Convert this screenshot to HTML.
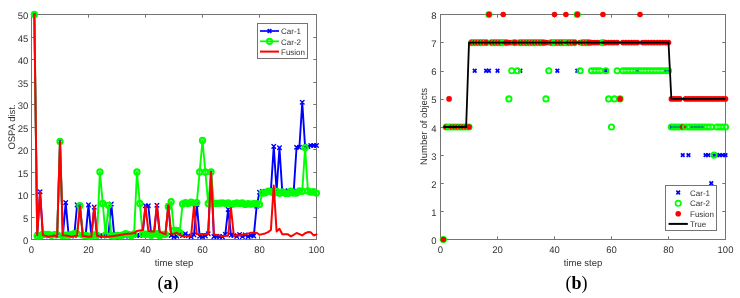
<!DOCTYPE html>
<html><head><meta charset="utf-8"><style>
html,body{margin:0;padding:0;background:#fff;}
svg{display:block;will-change:transform;}
</style></head><body>
<svg width="740" height="298" viewBox="0 0 740 298">
<rect width="740" height="298" fill="#fff"/>
<g font-family='"Liberation Sans", sans-serif' font-size="9.5" fill="#333333" text-rendering="geometricPrecision">
<text x="31.5" y="253.4" text-anchor="middle">0</text>
<text x="88.5" y="253.4" text-anchor="middle">20</text>
<text x="145.5" y="253.4" text-anchor="middle">40</text>
<text x="202.5" y="253.4" text-anchor="middle">60</text>
<text x="259.5" y="253.4" text-anchor="middle">80</text>
<text x="316.5" y="253.4" text-anchor="middle">100</text>
<text x="28.3" y="244.1" text-anchor="end">0</text>
<text x="28.3" y="221.6" text-anchor="end">5</text>
<text x="28.3" y="199.1" text-anchor="end">10</text>
<text x="28.3" y="176.6" text-anchor="end">15</text>
<text x="28.3" y="154.1" text-anchor="end">20</text>
<text x="28.3" y="131.6" text-anchor="end">25</text>
<text x="28.3" y="109.1" text-anchor="end">30</text>
<text x="28.3" y="86.6" text-anchor="end">35</text>
<text x="28.3" y="64.1" text-anchor="end">40</text>
<text x="28.3" y="41.6" text-anchor="end">45</text>
<text x="28.3" y="19.1" text-anchor="end">50</text>
<text x="174" y="265.9" text-anchor="middle">time step</text>
<text transform="translate(14.7,127) rotate(-90)" text-anchor="middle">OSPA dist.</text>
<text x="440.5" y="253.4" text-anchor="middle">0</text>
<text x="497.5" y="253.4" text-anchor="middle">20</text>
<text x="554.5" y="253.4" text-anchor="middle">40</text>
<text x="611.5" y="253.4" text-anchor="middle">60</text>
<text x="668.5" y="253.4" text-anchor="middle">80</text>
<text x="725.5" y="253.4" text-anchor="middle">100</text>
<text x="436.5" y="244.1" text-anchor="end">0</text>
<text x="436.5" y="215.97" text-anchor="end">1</text>
<text x="436.5" y="187.85" text-anchor="end">2</text>
<text x="436.5" y="159.72" text-anchor="end">3</text>
<text x="436.5" y="131.6" text-anchor="end">4</text>
<text x="436.5" y="103.47" text-anchor="end">5</text>
<text x="436.5" y="75.35" text-anchor="end">6</text>
<text x="436.5" y="47.23" text-anchor="end">7</text>
<text x="436.5" y="19.1" text-anchor="end">8</text>
<text x="583" y="265.9" text-anchor="middle">time step</text>
<text transform="translate(426.7,126.5) rotate(-90)" text-anchor="middle">Number of objects</text>
</g>
<rect x="31.5" y="14.5" width="285" height="225" fill="none" stroke="#747474" stroke-width="1"/>
<line x1="31.5" y1="239.5" x2="31.5" y2="236.3" stroke="#747474"/>
<line x1="31.5" y1="14.5" x2="31.5" y2="17.7" stroke="#747474"/>
<line x1="88.5" y1="239.5" x2="88.5" y2="236.3" stroke="#747474"/>
<line x1="88.5" y1="14.5" x2="88.5" y2="17.7" stroke="#747474"/>
<line x1="145.5" y1="239.5" x2="145.5" y2="236.3" stroke="#747474"/>
<line x1="145.5" y1="14.5" x2="145.5" y2="17.7" stroke="#747474"/>
<line x1="202.5" y1="239.5" x2="202.5" y2="236.3" stroke="#747474"/>
<line x1="202.5" y1="14.5" x2="202.5" y2="17.7" stroke="#747474"/>
<line x1="259.5" y1="239.5" x2="259.5" y2="236.3" stroke="#747474"/>
<line x1="259.5" y1="14.5" x2="259.5" y2="17.7" stroke="#747474"/>
<line x1="316.5" y1="239.5" x2="316.5" y2="236.3" stroke="#747474"/>
<line x1="316.5" y1="14.5" x2="316.5" y2="17.7" stroke="#747474"/>
<line x1="31.5" y1="239.5" x2="34.7" y2="239.5" stroke="#747474"/>
<line x1="316.5" y1="239.5" x2="313.3" y2="239.5" stroke="#747474"/>
<line x1="31.5" y1="217.5" x2="34.7" y2="217.5" stroke="#747474"/>
<line x1="316.5" y1="217.5" x2="313.3" y2="217.5" stroke="#747474"/>
<line x1="31.5" y1="194.5" x2="34.7" y2="194.5" stroke="#747474"/>
<line x1="316.5" y1="194.5" x2="313.3" y2="194.5" stroke="#747474"/>
<line x1="31.5" y1="172.5" x2="34.7" y2="172.5" stroke="#747474"/>
<line x1="316.5" y1="172.5" x2="313.3" y2="172.5" stroke="#747474"/>
<line x1="31.5" y1="149.5" x2="34.7" y2="149.5" stroke="#747474"/>
<line x1="316.5" y1="149.5" x2="313.3" y2="149.5" stroke="#747474"/>
<line x1="31.5" y1="127.5" x2="34.7" y2="127.5" stroke="#747474"/>
<line x1="316.5" y1="127.5" x2="313.3" y2="127.5" stroke="#747474"/>
<line x1="31.5" y1="104.5" x2="34.7" y2="104.5" stroke="#747474"/>
<line x1="316.5" y1="104.5" x2="313.3" y2="104.5" stroke="#747474"/>
<line x1="31.5" y1="82.5" x2="34.7" y2="82.5" stroke="#747474"/>
<line x1="316.5" y1="82.5" x2="313.3" y2="82.5" stroke="#747474"/>
<line x1="31.5" y1="59.5" x2="34.7" y2="59.5" stroke="#747474"/>
<line x1="316.5" y1="59.5" x2="313.3" y2="59.5" stroke="#747474"/>
<line x1="31.5" y1="37.5" x2="34.7" y2="37.5" stroke="#747474"/>
<line x1="316.5" y1="37.5" x2="313.3" y2="37.5" stroke="#747474"/>
<line x1="31.5" y1="14.5" x2="34.7" y2="14.5" stroke="#747474"/>
<line x1="316.5" y1="14.5" x2="313.3" y2="14.5" stroke="#747474"/>
<clipPath id="cl"><rect x="20" y="0" width="310" height="250"/></clipPath>
<g clip-path="url(#cl)" stroke-linejoin="round" stroke-linecap="round">
<polyline points="34.35,14.5 37.2,234.82 40.05,191.8 42.9,235.04 45.75,235.41 48.6,235.99 51.45,235.09 54.3,236.03 57.15,235.22 60,141.4 62.85,235.94 65.7,202.6 68.55,234.46 71.4,235.85 74.25,235.68 77.1,204.85 79.95,205.75 82.8,234.96 85.65,235.31 88.5,204.85 91.35,236.03 94.2,207.1 97.05,235.54 99.9,235.85 102.75,235.9 105.6,235.5 108.45,234.46 111.3,203.95 114.15,234.96 117,234.82 119.85,235.36 122.7,235 125.55,235.99 128.4,235.99 131.25,235.72 134.1,234.73 136.95,235.27 139.8,235.5 142.65,234.96 145.5,205.75 148.35,205.75 151.2,234.5 154.05,234.73 156.9,205.3 159.75,234.96 162.6,235.04 165.45,234.37 168.3,205.75 171.15,235.54 174,237.03 176.85,236.31 179.7,233.97 182.55,235.45 185.4,233.69 188.25,235.68 191.1,236.8 193.95,234.91 196.8,204.4 199.65,236.12 202.5,236.71 205.35,235.9 208.2,233.78 211.05,172 213.9,236.62 216.75,236.22 219.6,236.66 222.45,236.84 225.3,234.32 228.15,209.35 231,235.13 233.85,235.5 236.7,236.4 239.55,234.55 242.4,236.57 245.25,234.87 248.1,236.62 250.95,235.59 253.8,235.9 256.65,206.2 259.5,192.25 262.35,191.22 265.2,191.4 268.05,191.94 270.9,190.31 273.75,146.35 276.6,191.12 279.45,147.7 282.3,192.07 285.15,190.99 288,190.85 290.85,192.16 293.7,191.4 296.55,147.25 299.4,147.25 302.25,102.25 305.1,147.25 307.95,146.35 310.8,145.45 313.65,145.45 316.5,145.45" fill="none" stroke="#0000ff" stroke-width="1.9"/>
<path d="M32.55,12.7L36.15,16.3M32.55,16.3L36.15,12.7" stroke="#0000ff" stroke-width="1.4" fill="none"/>
<path d="M35.4,233.02L39,236.62M35.4,236.62L39,233.02" stroke="#0000ff" stroke-width="1.4" fill="none"/>
<path d="M38.25,190L41.85,193.6M38.25,193.6L41.85,190" stroke="#0000ff" stroke-width="1.4" fill="none"/>
<path d="M41.1,233.24L44.7,236.84M41.1,236.84L44.7,233.24" stroke="#0000ff" stroke-width="1.4" fill="none"/>
<path d="M43.95,233.6L47.55,237.21M43.95,237.21L47.55,233.6" stroke="#0000ff" stroke-width="1.4" fill="none"/>
<path d="M46.8,234.19L50.4,237.79M46.8,237.79L50.4,234.19" stroke="#0000ff" stroke-width="1.4" fill="none"/>
<path d="M49.65,233.29L53.25,236.89M49.65,236.89L53.25,233.29" stroke="#0000ff" stroke-width="1.4" fill="none"/>
<path d="M52.5,234.23L56.1,237.84M52.5,237.84L56.1,234.23" stroke="#0000ff" stroke-width="1.4" fill="none"/>
<path d="M55.35,233.42L58.95,237.03M55.35,237.03L58.95,233.42" stroke="#0000ff" stroke-width="1.4" fill="none"/>
<path d="M58.2,139.6L61.8,143.2M58.2,143.2L61.8,139.6" stroke="#0000ff" stroke-width="1.4" fill="none"/>
<path d="M61.05,234.14L64.65,237.75M61.05,237.75L64.65,234.14" stroke="#0000ff" stroke-width="1.4" fill="none"/>
<path d="M63.9,200.8L67.5,204.4M63.9,204.4L67.5,200.8" stroke="#0000ff" stroke-width="1.4" fill="none"/>
<path d="M66.75,232.66L70.35,236.26M66.75,236.26L70.35,232.66" stroke="#0000ff" stroke-width="1.4" fill="none"/>
<path d="M69.6,234.05L73.2,237.66M69.6,237.66L73.2,234.05" stroke="#0000ff" stroke-width="1.4" fill="none"/>
<path d="M72.45,233.88L76.05,237.48M72.45,237.48L76.05,233.88" stroke="#0000ff" stroke-width="1.4" fill="none"/>
<path d="M75.3,203.05L78.9,206.65M75.3,206.65L78.9,203.05" stroke="#0000ff" stroke-width="1.4" fill="none"/>
<path d="M78.15,203.95L81.75,207.55M78.15,207.55L81.75,203.95" stroke="#0000ff" stroke-width="1.4" fill="none"/>
<path d="M81,233.16L84.6,236.76M81,236.76L84.6,233.16" stroke="#0000ff" stroke-width="1.4" fill="none"/>
<path d="M83.85,233.51L87.45,237.12M83.85,237.12L87.45,233.51" stroke="#0000ff" stroke-width="1.4" fill="none"/>
<path d="M86.7,203.05L90.3,206.65M86.7,206.65L90.3,203.05" stroke="#0000ff" stroke-width="1.4" fill="none"/>
<path d="M89.55,234.23L93.15,237.84M89.55,237.84L93.15,234.23" stroke="#0000ff" stroke-width="1.4" fill="none"/>
<path d="M92.4,205.3L96,208.9M92.4,208.9L96,205.3" stroke="#0000ff" stroke-width="1.4" fill="none"/>
<path d="M95.25,233.74L98.85,237.34M95.25,237.34L98.85,233.74" stroke="#0000ff" stroke-width="1.4" fill="none"/>
<path d="M98.1,234.05L101.7,237.66M98.1,237.66L101.7,234.05" stroke="#0000ff" stroke-width="1.4" fill="none"/>
<path d="M100.95,234.1L104.55,237.7M100.95,237.7L104.55,234.1" stroke="#0000ff" stroke-width="1.4" fill="none"/>
<path d="M103.8,233.69L107.4,237.3M103.8,237.3L107.4,233.69" stroke="#0000ff" stroke-width="1.4" fill="none"/>
<path d="M106.65,232.66L110.25,236.26M106.65,236.26L110.25,232.66" stroke="#0000ff" stroke-width="1.4" fill="none"/>
<path d="M109.5,202.15L113.1,205.75M109.5,205.75L113.1,202.15" stroke="#0000ff" stroke-width="1.4" fill="none"/>
<path d="M112.35,233.16L115.95,236.76M112.35,236.76L115.95,233.16" stroke="#0000ff" stroke-width="1.4" fill="none"/>
<path d="M115.2,233.02L118.8,236.62M115.2,236.62L118.8,233.02" stroke="#0000ff" stroke-width="1.4" fill="none"/>
<path d="M118.05,233.56L121.65,237.16M118.05,237.16L121.65,233.56" stroke="#0000ff" stroke-width="1.4" fill="none"/>
<path d="M120.9,233.2L124.5,236.8M120.9,236.8L124.5,233.2" stroke="#0000ff" stroke-width="1.4" fill="none"/>
<path d="M123.75,234.19L127.35,237.79M123.75,237.79L127.35,234.19" stroke="#0000ff" stroke-width="1.4" fill="none"/>
<path d="M126.6,234.19L130.2,237.79M126.6,237.79L130.2,234.19" stroke="#0000ff" stroke-width="1.4" fill="none"/>
<path d="M129.45,233.92L133.05,237.52M129.45,237.52L133.05,233.92" stroke="#0000ff" stroke-width="1.4" fill="none"/>
<path d="M132.3,232.93L135.9,236.53M132.3,236.53L135.9,232.93" stroke="#0000ff" stroke-width="1.4" fill="none"/>
<path d="M135.15,233.47L138.75,237.07M135.15,237.07L138.75,233.47" stroke="#0000ff" stroke-width="1.4" fill="none"/>
<path d="M138,233.69L141.6,237.3M138,237.3L141.6,233.69" stroke="#0000ff" stroke-width="1.4" fill="none"/>
<path d="M140.85,233.16L144.45,236.76M140.85,236.76L144.45,233.16" stroke="#0000ff" stroke-width="1.4" fill="none"/>
<path d="M143.7,203.95L147.3,207.55M143.7,207.55L147.3,203.95" stroke="#0000ff" stroke-width="1.4" fill="none"/>
<path d="M146.55,203.95L150.15,207.55M146.55,207.55L150.15,203.95" stroke="#0000ff" stroke-width="1.4" fill="none"/>
<path d="M149.4,232.7L153,236.31M149.4,236.31L153,232.7" stroke="#0000ff" stroke-width="1.4" fill="none"/>
<path d="M152.25,232.93L155.85,236.53M152.25,236.53L155.85,232.93" stroke="#0000ff" stroke-width="1.4" fill="none"/>
<path d="M155.1,203.5L158.7,207.1M155.1,207.1L158.7,203.5" stroke="#0000ff" stroke-width="1.4" fill="none"/>
<path d="M157.95,233.16L161.55,236.76M157.95,236.76L161.55,233.16" stroke="#0000ff" stroke-width="1.4" fill="none"/>
<path d="M160.8,233.24L164.4,236.84M160.8,236.84L164.4,233.24" stroke="#0000ff" stroke-width="1.4" fill="none"/>
<path d="M163.65,232.57L167.25,236.17M163.65,236.17L167.25,232.57" stroke="#0000ff" stroke-width="1.4" fill="none"/>
<path d="M166.5,203.95L170.1,207.55M166.5,207.55L170.1,203.95" stroke="#0000ff" stroke-width="1.4" fill="none"/>
<path d="M169.35,233.74L172.95,237.34M169.35,237.34L172.95,233.74" stroke="#0000ff" stroke-width="1.4" fill="none"/>
<path d="M172.2,235.22L175.8,238.83M172.2,238.83L175.8,235.22" stroke="#0000ff" stroke-width="1.4" fill="none"/>
<path d="M175.05,234.5L178.65,238.11M175.05,238.11L178.65,234.5" stroke="#0000ff" stroke-width="1.4" fill="none"/>
<path d="M177.9,232.16L181.5,235.77M177.9,235.77L181.5,232.16" stroke="#0000ff" stroke-width="1.4" fill="none"/>
<path d="M180.75,233.65L184.35,237.25M180.75,237.25L184.35,233.65" stroke="#0000ff" stroke-width="1.4" fill="none"/>
<path d="M183.6,231.89L187.2,235.5M183.6,235.5L187.2,231.89" stroke="#0000ff" stroke-width="1.4" fill="none"/>
<path d="M186.45,233.88L190.05,237.48M186.45,237.48L190.05,233.88" stroke="#0000ff" stroke-width="1.4" fill="none"/>
<path d="M189.3,235L192.9,238.6M189.3,238.6L192.9,235" stroke="#0000ff" stroke-width="1.4" fill="none"/>
<path d="M192.15,233.11L195.75,236.71M192.15,236.71L195.75,233.11" stroke="#0000ff" stroke-width="1.4" fill="none"/>
<path d="M195,202.6L198.6,206.2M195,206.2L198.6,202.6" stroke="#0000ff" stroke-width="1.4" fill="none"/>
<path d="M197.85,234.32L201.45,237.93M197.85,237.93L201.45,234.32" stroke="#0000ff" stroke-width="1.4" fill="none"/>
<path d="M200.7,234.91L204.3,238.51M200.7,238.51L204.3,234.91" stroke="#0000ff" stroke-width="1.4" fill="none"/>
<path d="M203.55,234.1L207.15,237.7M203.55,237.7L207.15,234.1" stroke="#0000ff" stroke-width="1.4" fill="none"/>
<path d="M206.4,231.98L210,235.59M206.4,235.59L210,231.98" stroke="#0000ff" stroke-width="1.4" fill="none"/>
<path d="M209.25,170.2L212.85,173.8M209.25,173.8L212.85,170.2" stroke="#0000ff" stroke-width="1.4" fill="none"/>
<path d="M212.1,234.82L215.7,238.42M212.1,238.42L215.7,234.82" stroke="#0000ff" stroke-width="1.4" fill="none"/>
<path d="M214.95,234.41L218.55,238.02M214.95,238.02L218.55,234.41" stroke="#0000ff" stroke-width="1.4" fill="none"/>
<path d="M217.8,234.86L221.4,238.47M217.8,238.47L221.4,234.86" stroke="#0000ff" stroke-width="1.4" fill="none"/>
<path d="M220.65,235.04L224.25,238.65M220.65,238.65L224.25,235.04" stroke="#0000ff" stroke-width="1.4" fill="none"/>
<path d="M223.5,232.52L227.1,236.12M223.5,236.12L227.1,232.52" stroke="#0000ff" stroke-width="1.4" fill="none"/>
<path d="M226.35,207.55L229.95,211.15M226.35,211.15L229.95,207.55" stroke="#0000ff" stroke-width="1.4" fill="none"/>
<path d="M229.2,233.33L232.8,236.94M229.2,236.94L232.8,233.33" stroke="#0000ff" stroke-width="1.4" fill="none"/>
<path d="M232.05,233.69L235.65,237.3M232.05,237.3L235.65,233.69" stroke="#0000ff" stroke-width="1.4" fill="none"/>
<path d="M234.9,234.59L238.5,238.2M234.9,238.2L238.5,234.59" stroke="#0000ff" stroke-width="1.4" fill="none"/>
<path d="M237.75,232.75L241.35,236.35M237.75,236.35L241.35,232.75" stroke="#0000ff" stroke-width="1.4" fill="none"/>
<path d="M240.6,234.77L244.2,238.38M240.6,238.38L244.2,234.77" stroke="#0000ff" stroke-width="1.4" fill="none"/>
<path d="M243.45,233.06L247.05,236.67M243.45,236.67L247.05,233.06" stroke="#0000ff" stroke-width="1.4" fill="none"/>
<path d="M246.3,234.82L249.9,238.42M246.3,238.42L249.9,234.82" stroke="#0000ff" stroke-width="1.4" fill="none"/>
<path d="M249.15,233.78L252.75,237.39M249.15,237.39L252.75,233.78" stroke="#0000ff" stroke-width="1.4" fill="none"/>
<path d="M252,234.1L255.6,237.7M252,237.7L255.6,234.1" stroke="#0000ff" stroke-width="1.4" fill="none"/>
<path d="M254.85,204.4L258.45,208M254.85,208L258.45,204.4" stroke="#0000ff" stroke-width="1.4" fill="none"/>
<path d="M257.7,190.45L261.3,194.05M257.7,194.05L261.3,190.45" stroke="#0000ff" stroke-width="1.4" fill="none"/>
<path d="M260.55,189.41L264.15,193.02M260.55,193.02L264.15,189.41" stroke="#0000ff" stroke-width="1.4" fill="none"/>
<path d="M263.4,189.59L267,193.2M263.4,193.2L267,189.59" stroke="#0000ff" stroke-width="1.4" fill="none"/>
<path d="M266.25,190.13L269.85,193.74M266.25,193.74L269.85,190.13" stroke="#0000ff" stroke-width="1.4" fill="none"/>
<path d="M269.1,188.51L272.7,192.12M269.1,192.12L272.7,188.51" stroke="#0000ff" stroke-width="1.4" fill="none"/>
<path d="M271.95,144.55L275.55,148.15M271.95,148.15L275.55,144.55" stroke="#0000ff" stroke-width="1.4" fill="none"/>
<path d="M274.8,189.32L278.4,192.93M274.8,192.93L278.4,189.32" stroke="#0000ff" stroke-width="1.4" fill="none"/>
<path d="M277.65,145.9L281.25,149.5M277.65,149.5L281.25,145.9" stroke="#0000ff" stroke-width="1.4" fill="none"/>
<path d="M280.5,190.27L284.1,193.87M280.5,193.87L284.1,190.27" stroke="#0000ff" stroke-width="1.4" fill="none"/>
<path d="M283.35,189.19L286.95,192.79M283.35,192.79L286.95,189.19" stroke="#0000ff" stroke-width="1.4" fill="none"/>
<path d="M286.2,189.05L289.8,192.66M286.2,192.66L289.8,189.05" stroke="#0000ff" stroke-width="1.4" fill="none"/>
<path d="M289.05,190.36L292.65,193.96M289.05,193.96L292.65,190.36" stroke="#0000ff" stroke-width="1.4" fill="none"/>
<path d="M291.9,189.59L295.5,193.2M291.9,193.2L295.5,189.59" stroke="#0000ff" stroke-width="1.4" fill="none"/>
<path d="M294.75,145.45L298.35,149.05M294.75,149.05L298.35,145.45" stroke="#0000ff" stroke-width="1.4" fill="none"/>
<path d="M297.6,145.45L301.2,149.05M297.6,149.05L301.2,145.45" stroke="#0000ff" stroke-width="1.4" fill="none"/>
<path d="M300.45,100.45L304.05,104.05M300.45,104.05L304.05,100.45" stroke="#0000ff" stroke-width="1.4" fill="none"/>
<path d="M303.3,145.45L306.9,149.05M303.3,149.05L306.9,145.45" stroke="#0000ff" stroke-width="1.4" fill="none"/>
<path d="M306.15,144.55L309.75,148.15M306.15,148.15L309.75,144.55" stroke="#0000ff" stroke-width="1.4" fill="none"/>
<path d="M309,143.65L312.6,147.25M309,147.25L312.6,143.65" stroke="#0000ff" stroke-width="1.4" fill="none"/>
<path d="M311.85,143.65L315.45,147.25M311.85,147.25L315.45,143.65" stroke="#0000ff" stroke-width="1.4" fill="none"/>
<path d="M314.7,143.65L318.3,147.25M314.7,147.25L318.3,143.65" stroke="#0000ff" stroke-width="1.4" fill="none"/>
<polyline points="34.35,14.5 37.2,235.99 40.05,235.9 42.9,234.06 45.75,234.32 48.6,234.46 51.45,235.36 54.3,234.64 57.15,234.64 60,141.4 62.85,235.72 65.7,235.04 68.55,235.13 71.4,234.32 74.25,233.65 77.1,233.78 79.95,205.75 82.8,235.04 85.65,235.45 88.5,236.03 91.35,236.03 94.2,234.96 97.05,235.31 99.9,172 102.75,203.5 105.6,234.82 108.45,205.3 111.3,235.54 114.15,236.08 117,235.31 119.85,235.76 122.7,234.87 125.55,233.65 128.4,234.46 131.25,235.68 134.1,233.92 136.95,172 139.8,203.5 142.65,233.88 145.5,234.24 148.35,234.19 151.2,235.27 154.05,233.69 156.9,233.74 159.75,235.72 162.6,234.28 165.45,234.37 168.3,206.65 171.15,201.7 174,230.5 176.85,230.5 179.7,232.75 182.55,203.95 185.4,202.6 188.25,203.5 191.1,202.15 193.95,203.05 196.8,202.6 199.65,172 202.5,140.5 205.35,172 208.2,203.5 211.05,172 213.9,203.5 216.75,203.28 219.6,203.19 222.45,202.91 225.3,203.28 228.15,202.96 231,204.58 233.85,203.77 236.7,202.91 239.55,203.45 242.4,203 245.25,204.4 248.1,203.77 250.95,204.18 253.8,203.63 256.65,203.59 259.5,204.58 262.35,193.01 265.2,192.84 268.05,191.12 270.9,191.53 273.75,193.15 276.6,191.44 279.45,193.24 282.3,191.94 285.15,193.24 288,193.6 290.85,191.26 293.7,193.01 296.55,193.01 299.4,190.94 302.25,191.26 305.1,147.7 307.95,190.99 310.8,192.16 313.65,191.75 316.5,193.06" fill="none" stroke="#00ff00" stroke-width="1.9"/>
<circle cx="34.35" cy="14.5" r="2.6" stroke="#00ff00" stroke-width="2.1" fill="none"/>
<circle cx="37.2" cy="235.99" r="2.6" stroke="#00ff00" stroke-width="2.1" fill="none"/>
<circle cx="40.05" cy="235.9" r="2.6" stroke="#00ff00" stroke-width="2.1" fill="none"/>
<circle cx="42.9" cy="234.06" r="2.6" stroke="#00ff00" stroke-width="2.1" fill="none"/>
<circle cx="45.75" cy="234.32" r="2.6" stroke="#00ff00" stroke-width="2.1" fill="none"/>
<circle cx="48.6" cy="234.46" r="2.6" stroke="#00ff00" stroke-width="2.1" fill="none"/>
<circle cx="51.45" cy="235.36" r="2.6" stroke="#00ff00" stroke-width="2.1" fill="none"/>
<circle cx="54.3" cy="234.64" r="2.6" stroke="#00ff00" stroke-width="2.1" fill="none"/>
<circle cx="57.15" cy="234.64" r="2.6" stroke="#00ff00" stroke-width="2.1" fill="none"/>
<circle cx="60" cy="141.4" r="2.6" stroke="#00ff00" stroke-width="2.1" fill="none"/>
<circle cx="62.85" cy="235.72" r="2.6" stroke="#00ff00" stroke-width="2.1" fill="none"/>
<circle cx="65.7" cy="235.04" r="2.6" stroke="#00ff00" stroke-width="2.1" fill="none"/>
<circle cx="68.55" cy="235.13" r="2.6" stroke="#00ff00" stroke-width="2.1" fill="none"/>
<circle cx="71.4" cy="234.32" r="2.6" stroke="#00ff00" stroke-width="2.1" fill="none"/>
<circle cx="74.25" cy="233.65" r="2.6" stroke="#00ff00" stroke-width="2.1" fill="none"/>
<circle cx="77.1" cy="233.78" r="2.6" stroke="#00ff00" stroke-width="2.1" fill="none"/>
<circle cx="79.95" cy="205.75" r="2.6" stroke="#00ff00" stroke-width="2.1" fill="none"/>
<circle cx="82.8" cy="235.04" r="2.6" stroke="#00ff00" stroke-width="2.1" fill="none"/>
<circle cx="85.65" cy="235.45" r="2.6" stroke="#00ff00" stroke-width="2.1" fill="none"/>
<circle cx="88.5" cy="236.03" r="2.6" stroke="#00ff00" stroke-width="2.1" fill="none"/>
<circle cx="91.35" cy="236.03" r="2.6" stroke="#00ff00" stroke-width="2.1" fill="none"/>
<circle cx="94.2" cy="234.96" r="2.6" stroke="#00ff00" stroke-width="2.1" fill="none"/>
<circle cx="97.05" cy="235.31" r="2.6" stroke="#00ff00" stroke-width="2.1" fill="none"/>
<circle cx="99.9" cy="172" r="2.6" stroke="#00ff00" stroke-width="2.1" fill="none"/>
<circle cx="102.75" cy="203.5" r="2.6" stroke="#00ff00" stroke-width="2.1" fill="none"/>
<circle cx="105.6" cy="234.82" r="2.6" stroke="#00ff00" stroke-width="2.1" fill="none"/>
<circle cx="108.45" cy="205.3" r="2.6" stroke="#00ff00" stroke-width="2.1" fill="none"/>
<circle cx="111.3" cy="235.54" r="2.6" stroke="#00ff00" stroke-width="2.1" fill="none"/>
<circle cx="114.15" cy="236.08" r="2.6" stroke="#00ff00" stroke-width="2.1" fill="none"/>
<circle cx="117" cy="235.31" r="2.6" stroke="#00ff00" stroke-width="2.1" fill="none"/>
<circle cx="119.85" cy="235.76" r="2.6" stroke="#00ff00" stroke-width="2.1" fill="none"/>
<circle cx="122.7" cy="234.87" r="2.6" stroke="#00ff00" stroke-width="2.1" fill="none"/>
<circle cx="125.55" cy="233.65" r="2.6" stroke="#00ff00" stroke-width="2.1" fill="none"/>
<circle cx="128.4" cy="234.46" r="2.6" stroke="#00ff00" stroke-width="2.1" fill="none"/>
<circle cx="131.25" cy="235.68" r="2.6" stroke="#00ff00" stroke-width="2.1" fill="none"/>
<circle cx="134.1" cy="233.92" r="2.6" stroke="#00ff00" stroke-width="2.1" fill="none"/>
<circle cx="136.95" cy="172" r="2.6" stroke="#00ff00" stroke-width="2.1" fill="none"/>
<circle cx="139.8" cy="203.5" r="2.6" stroke="#00ff00" stroke-width="2.1" fill="none"/>
<circle cx="142.65" cy="233.88" r="2.6" stroke="#00ff00" stroke-width="2.1" fill="none"/>
<circle cx="145.5" cy="234.24" r="2.6" stroke="#00ff00" stroke-width="2.1" fill="none"/>
<circle cx="148.35" cy="234.19" r="2.6" stroke="#00ff00" stroke-width="2.1" fill="none"/>
<circle cx="151.2" cy="235.27" r="2.6" stroke="#00ff00" stroke-width="2.1" fill="none"/>
<circle cx="154.05" cy="233.69" r="2.6" stroke="#00ff00" stroke-width="2.1" fill="none"/>
<circle cx="156.9" cy="233.74" r="2.6" stroke="#00ff00" stroke-width="2.1" fill="none"/>
<circle cx="159.75" cy="235.72" r="2.6" stroke="#00ff00" stroke-width="2.1" fill="none"/>
<circle cx="162.6" cy="234.28" r="2.6" stroke="#00ff00" stroke-width="2.1" fill="none"/>
<circle cx="165.45" cy="234.37" r="2.6" stroke="#00ff00" stroke-width="2.1" fill="none"/>
<circle cx="168.3" cy="206.65" r="2.6" stroke="#00ff00" stroke-width="2.1" fill="none"/>
<circle cx="171.15" cy="201.7" r="2.6" stroke="#00ff00" stroke-width="2.1" fill="none"/>
<circle cx="174" cy="230.5" r="2.6" stroke="#00ff00" stroke-width="2.1" fill="none"/>
<circle cx="176.85" cy="230.5" r="2.6" stroke="#00ff00" stroke-width="2.1" fill="none"/>
<circle cx="179.7" cy="232.75" r="2.6" stroke="#00ff00" stroke-width="2.1" fill="none"/>
<circle cx="182.55" cy="203.95" r="2.6" stroke="#00ff00" stroke-width="2.1" fill="none"/>
<circle cx="185.4" cy="202.6" r="2.6" stroke="#00ff00" stroke-width="2.1" fill="none"/>
<circle cx="188.25" cy="203.5" r="2.6" stroke="#00ff00" stroke-width="2.1" fill="none"/>
<circle cx="191.1" cy="202.15" r="2.6" stroke="#00ff00" stroke-width="2.1" fill="none"/>
<circle cx="193.95" cy="203.05" r="2.6" stroke="#00ff00" stroke-width="2.1" fill="none"/>
<circle cx="196.8" cy="202.6" r="2.6" stroke="#00ff00" stroke-width="2.1" fill="none"/>
<circle cx="199.65" cy="172" r="2.6" stroke="#00ff00" stroke-width="2.1" fill="none"/>
<circle cx="202.5" cy="140.5" r="2.6" stroke="#00ff00" stroke-width="2.1" fill="none"/>
<circle cx="205.35" cy="172" r="2.6" stroke="#00ff00" stroke-width="2.1" fill="none"/>
<circle cx="208.2" cy="203.5" r="2.6" stroke="#00ff00" stroke-width="2.1" fill="none"/>
<circle cx="211.05" cy="172" r="2.6" stroke="#00ff00" stroke-width="2.1" fill="none"/>
<circle cx="213.9" cy="203.5" r="2.6" stroke="#00ff00" stroke-width="2.1" fill="none"/>
<circle cx="216.75" cy="203.28" r="2.6" stroke="#00ff00" stroke-width="2.1" fill="none"/>
<circle cx="219.6" cy="203.19" r="2.6" stroke="#00ff00" stroke-width="2.1" fill="none"/>
<circle cx="222.45" cy="202.91" r="2.6" stroke="#00ff00" stroke-width="2.1" fill="none"/>
<circle cx="225.3" cy="203.28" r="2.6" stroke="#00ff00" stroke-width="2.1" fill="none"/>
<circle cx="228.15" cy="202.96" r="2.6" stroke="#00ff00" stroke-width="2.1" fill="none"/>
<circle cx="231" cy="204.58" r="2.6" stroke="#00ff00" stroke-width="2.1" fill="none"/>
<circle cx="233.85" cy="203.77" r="2.6" stroke="#00ff00" stroke-width="2.1" fill="none"/>
<circle cx="236.7" cy="202.91" r="2.6" stroke="#00ff00" stroke-width="2.1" fill="none"/>
<circle cx="239.55" cy="203.45" r="2.6" stroke="#00ff00" stroke-width="2.1" fill="none"/>
<circle cx="242.4" cy="203" r="2.6" stroke="#00ff00" stroke-width="2.1" fill="none"/>
<circle cx="245.25" cy="204.4" r="2.6" stroke="#00ff00" stroke-width="2.1" fill="none"/>
<circle cx="248.1" cy="203.77" r="2.6" stroke="#00ff00" stroke-width="2.1" fill="none"/>
<circle cx="250.95" cy="204.18" r="2.6" stroke="#00ff00" stroke-width="2.1" fill="none"/>
<circle cx="253.8" cy="203.63" r="2.6" stroke="#00ff00" stroke-width="2.1" fill="none"/>
<circle cx="256.65" cy="203.59" r="2.6" stroke="#00ff00" stroke-width="2.1" fill="none"/>
<circle cx="259.5" cy="204.58" r="2.6" stroke="#00ff00" stroke-width="2.1" fill="none"/>
<circle cx="262.35" cy="193.01" r="2.6" stroke="#00ff00" stroke-width="2.1" fill="none"/>
<circle cx="265.2" cy="192.84" r="2.6" stroke="#00ff00" stroke-width="2.1" fill="none"/>
<circle cx="268.05" cy="191.12" r="2.6" stroke="#00ff00" stroke-width="2.1" fill="none"/>
<circle cx="270.9" cy="191.53" r="2.6" stroke="#00ff00" stroke-width="2.1" fill="none"/>
<circle cx="273.75" cy="193.15" r="2.6" stroke="#00ff00" stroke-width="2.1" fill="none"/>
<circle cx="276.6" cy="191.44" r="2.6" stroke="#00ff00" stroke-width="2.1" fill="none"/>
<circle cx="279.45" cy="193.24" r="2.6" stroke="#00ff00" stroke-width="2.1" fill="none"/>
<circle cx="282.3" cy="191.94" r="2.6" stroke="#00ff00" stroke-width="2.1" fill="none"/>
<circle cx="285.15" cy="193.24" r="2.6" stroke="#00ff00" stroke-width="2.1" fill="none"/>
<circle cx="288" cy="193.6" r="2.6" stroke="#00ff00" stroke-width="2.1" fill="none"/>
<circle cx="290.85" cy="191.26" r="2.6" stroke="#00ff00" stroke-width="2.1" fill="none"/>
<circle cx="293.7" cy="193.01" r="2.6" stroke="#00ff00" stroke-width="2.1" fill="none"/>
<circle cx="296.55" cy="193.01" r="2.6" stroke="#00ff00" stroke-width="2.1" fill="none"/>
<circle cx="299.4" cy="190.94" r="2.6" stroke="#00ff00" stroke-width="2.1" fill="none"/>
<circle cx="302.25" cy="191.26" r="2.6" stroke="#00ff00" stroke-width="2.1" fill="none"/>
<circle cx="305.1" cy="147.7" r="2.6" stroke="#00ff00" stroke-width="2.1" fill="none"/>
<circle cx="307.95" cy="190.99" r="2.6" stroke="#00ff00" stroke-width="2.1" fill="none"/>
<circle cx="310.8" cy="192.16" r="2.6" stroke="#00ff00" stroke-width="2.1" fill="none"/>
<circle cx="313.65" cy="191.75" r="2.6" stroke="#00ff00" stroke-width="2.1" fill="none"/>
<circle cx="316.5" cy="193.06" r="2.6" stroke="#00ff00" stroke-width="2.1" fill="none"/>
<polyline points="34.35,14.5 37.2,235 40.05,191.8 42.9,235.22 45.75,235.9 48.6,236.8 51.45,236.12 54.3,235.45 57.15,236.8 60,141.4 62.85,235.22 65.7,235.45 68.55,235.9 71.4,236.8 74.25,236.12 77.1,235.68 79.95,206.2 82.8,236.12 85.65,236.35 88.5,236.8 91.35,236.57 94.2,207.1 97.05,235.9 99.9,236.35 102.75,236.57 105.6,236.8 108.45,236.8 111.3,236.35 114.15,235.9 117,235.45 119.85,235 122.7,234.55 125.55,234.1 128.4,233.65 131.25,233.43 134.1,232.97 136.95,230.95 139.8,230.5 142.65,230.05 145.5,206.2 148.35,230.95 151.2,231.4 154.05,231.4 156.9,204.85 159.75,231.85 162.6,233.2 165.45,234.1 168.3,205.3 171.15,234.1 174,233.65 176.85,232.75 179.7,234.55 182.55,236.35 185.4,236.35 188.25,236.35 191.1,235.9 193.95,206.65 196.8,234.1 199.65,234.1 202.5,234.1 205.35,234.1 208.2,234.1 211.05,172 213.9,234.55 216.75,235 219.6,235.45 222.45,235.9 225.3,235.9 228.15,235.45 231,208 233.85,236.12 236.7,235 239.55,235.45 242.4,234.78 245.25,234.1 248.1,233.65 250.95,232.75 253.8,232.75 256.65,232.75 259.5,234.78 262.35,234.1 265.2,233.43 268.05,232.07 270.9,230.05 273.75,185.5 276.6,231.4 279.45,228.7 282.3,234.32 285.15,234.32 288,234.32 290.85,236.35 293.7,234.78 296.55,232.97 299.4,234.1 302.25,235.45 305.1,233.2 307.95,232.07 310.8,232.3 313.65,235.45 316.5,234.32" fill="none" stroke="#ff0000" stroke-width="2"/>
</g>
<rect x="257.5" y="23.5" width="50" height="35" fill="#fff" stroke="#747474"/>
<line x1="260" y1="31" x2="279" y2="31" stroke="#0000ff" stroke-width="1.7"/>
<path d="M267.7,29.2L271.3,32.8M267.7,32.8L271.3,29.2" stroke="#0000ff" stroke-width="1.7" fill="none"/>
<line x1="260" y1="41.3" x2="279" y2="41.3" stroke="#00ff00" stroke-width="1.7"/>
<circle cx="269.5" cy="41.3" r="2.6" stroke="#00ff00" stroke-width="2.1" fill="none"/>
<line x1="260" y1="51.6" x2="279" y2="51.6" stroke="#ff0000" stroke-width="2"/>
<g font-family='"Liberation Sans", sans-serif' font-size="8" fill="#333333" text-rendering="geometricPrecision">
<text x="281" y="34.2">Car-1</text><text x="281" y="44.5">Car-2</text><text x="281" y="54.8">Fusion</text>
</g>
<rect x="440.5" y="14.5" width="285" height="225" fill="none" stroke="#747474" stroke-width="1"/>
<line x1="440.5" y1="239.5" x2="440.5" y2="236.3" stroke="#747474"/>
<line x1="440.5" y1="14.5" x2="440.5" y2="17.7" stroke="#747474"/>
<line x1="497.5" y1="239.5" x2="497.5" y2="236.3" stroke="#747474"/>
<line x1="497.5" y1="14.5" x2="497.5" y2="17.7" stroke="#747474"/>
<line x1="554.5" y1="239.5" x2="554.5" y2="236.3" stroke="#747474"/>
<line x1="554.5" y1="14.5" x2="554.5" y2="17.7" stroke="#747474"/>
<line x1="611.5" y1="239.5" x2="611.5" y2="236.3" stroke="#747474"/>
<line x1="611.5" y1="14.5" x2="611.5" y2="17.7" stroke="#747474"/>
<line x1="668.5" y1="239.5" x2="668.5" y2="236.3" stroke="#747474"/>
<line x1="668.5" y1="14.5" x2="668.5" y2="17.7" stroke="#747474"/>
<line x1="725.5" y1="239.5" x2="725.5" y2="236.3" stroke="#747474"/>
<line x1="725.5" y1="14.5" x2="725.5" y2="17.7" stroke="#747474"/>
<line x1="440.5" y1="239.5" x2="443.7" y2="239.5" stroke="#747474"/>
<line x1="725.5" y1="239.5" x2="722.3" y2="239.5" stroke="#747474"/>
<line x1="440.5" y1="211.5" x2="443.7" y2="211.5" stroke="#747474"/>
<line x1="725.5" y1="211.5" x2="722.3" y2="211.5" stroke="#747474"/>
<line x1="440.5" y1="183.5" x2="443.7" y2="183.5" stroke="#747474"/>
<line x1="725.5" y1="183.5" x2="722.3" y2="183.5" stroke="#747474"/>
<line x1="440.5" y1="155.5" x2="443.7" y2="155.5" stroke="#747474"/>
<line x1="725.5" y1="155.5" x2="722.3" y2="155.5" stroke="#747474"/>
<line x1="440.5" y1="127.5" x2="443.7" y2="127.5" stroke="#747474"/>
<line x1="725.5" y1="127.5" x2="722.3" y2="127.5" stroke="#747474"/>
<line x1="440.5" y1="99.5" x2="443.7" y2="99.5" stroke="#747474"/>
<line x1="725.5" y1="99.5" x2="722.3" y2="99.5" stroke="#747474"/>
<line x1="440.5" y1="71.5" x2="443.7" y2="71.5" stroke="#747474"/>
<line x1="725.5" y1="71.5" x2="722.3" y2="71.5" stroke="#747474"/>
<line x1="440.5" y1="42.5" x2="443.7" y2="42.5" stroke="#747474"/>
<line x1="725.5" y1="42.5" x2="722.3" y2="42.5" stroke="#747474"/>
<line x1="440.5" y1="14.5" x2="443.7" y2="14.5" stroke="#747474"/>
<line x1="725.5" y1="14.5" x2="722.3" y2="14.5" stroke="#747474"/>
<clipPath id="cr"><rect x="436" y="10" width="294" height="234"/></clipPath>
<g clip-path="url(#cr)">
<path d="M441.55,237.7L445.15,241.3M441.55,241.3L445.15,237.7" stroke="#0000ff" stroke-width="1.7" fill="none"/>
<path d="M444.4,125.2L448,128.8M444.4,128.8L448,125.2" stroke="#0000ff" stroke-width="1.7" fill="none"/>
<path d="M447.25,97.08L450.85,100.67M447.25,100.67L450.85,97.08" stroke="#0000ff" stroke-width="1.7" fill="none"/>
<path d="M450.1,125.2L453.7,128.8M450.1,128.8L453.7,125.2" stroke="#0000ff" stroke-width="1.7" fill="none"/>
<path d="M452.95,125.2L456.55,128.8M452.95,128.8L456.55,125.2" stroke="#0000ff" stroke-width="1.7" fill="none"/>
<path d="M455.8,125.2L459.4,128.8M455.8,128.8L459.4,125.2" stroke="#0000ff" stroke-width="1.7" fill="none"/>
<path d="M458.65,125.2L462.25,128.8M458.65,128.8L462.25,125.2" stroke="#0000ff" stroke-width="1.7" fill="none"/>
<path d="M461.5,125.2L465.1,128.8M461.5,128.8L465.1,125.2" stroke="#0000ff" stroke-width="1.7" fill="none"/>
<path d="M464.35,125.2L467.95,128.8M464.35,128.8L467.95,125.2" stroke="#0000ff" stroke-width="1.7" fill="none"/>
<path d="M467.2,125.2L470.8,128.8M467.2,128.8L470.8,125.2" stroke="#0000ff" stroke-width="1.7" fill="none"/>
<path d="M470.05,40.83L473.65,44.42M470.05,44.42L473.65,40.83" stroke="#0000ff" stroke-width="1.7" fill="none"/>
<path d="M472.9,68.95L476.5,72.55M472.9,72.55L476.5,68.95" stroke="#0000ff" stroke-width="1.7" fill="none"/>
<path d="M475.75,40.83L479.35,44.42M475.75,44.42L479.35,40.83" stroke="#0000ff" stroke-width="1.7" fill="none"/>
<path d="M478.6,40.83L482.2,44.42M478.6,44.42L482.2,40.83" stroke="#0000ff" stroke-width="1.7" fill="none"/>
<path d="M481.45,40.83L485.05,44.42M481.45,44.42L485.05,40.83" stroke="#0000ff" stroke-width="1.7" fill="none"/>
<path d="M484.3,68.95L487.9,72.55M484.3,72.55L487.9,68.95" stroke="#0000ff" stroke-width="1.7" fill="none"/>
<path d="M487.15,68.95L490.75,72.55M487.15,72.55L490.75,68.95" stroke="#0000ff" stroke-width="1.7" fill="none"/>
<path d="M490,40.83L493.6,44.42M490,44.42L493.6,40.83" stroke="#0000ff" stroke-width="1.7" fill="none"/>
<path d="M492.85,40.83L496.45,44.42M492.85,44.42L496.45,40.83" stroke="#0000ff" stroke-width="1.7" fill="none"/>
<path d="M495.7,68.95L499.3,72.55M495.7,72.55L499.3,68.95" stroke="#0000ff" stroke-width="1.7" fill="none"/>
<path d="M498.55,40.83L502.15,44.42M498.55,44.42L502.15,40.83" stroke="#0000ff" stroke-width="1.7" fill="none"/>
<path d="M501.4,40.83L505,44.42M501.4,44.42L505,40.83" stroke="#0000ff" stroke-width="1.7" fill="none"/>
<path d="M504.25,40.83L507.85,44.42M504.25,44.42L507.85,40.83" stroke="#0000ff" stroke-width="1.7" fill="none"/>
<path d="M507.1,40.83L510.7,44.42M507.1,44.42L510.7,40.83" stroke="#0000ff" stroke-width="1.7" fill="none"/>
<path d="M509.95,40.83L513.55,44.42M509.95,44.42L513.55,40.83" stroke="#0000ff" stroke-width="1.7" fill="none"/>
<path d="M512.8,40.83L516.4,44.42M512.8,44.42L516.4,40.83" stroke="#0000ff" stroke-width="1.7" fill="none"/>
<path d="M515.65,40.83L519.25,44.42M515.65,44.42L519.25,40.83" stroke="#0000ff" stroke-width="1.7" fill="none"/>
<path d="M518.5,68.95L522.1,72.55M518.5,72.55L522.1,68.95" stroke="#0000ff" stroke-width="1.7" fill="none"/>
<path d="M521.35,40.83L524.95,44.42M521.35,44.42L524.95,40.83" stroke="#0000ff" stroke-width="1.7" fill="none"/>
<path d="M524.2,40.83L527.8,44.42M524.2,44.42L527.8,40.83" stroke="#0000ff" stroke-width="1.7" fill="none"/>
<path d="M527.05,40.83L530.65,44.42M527.05,44.42L530.65,40.83" stroke="#0000ff" stroke-width="1.7" fill="none"/>
<path d="M529.9,40.83L533.5,44.42M529.9,44.42L533.5,40.83" stroke="#0000ff" stroke-width="1.7" fill="none"/>
<path d="M532.75,40.83L536.35,44.42M532.75,44.42L536.35,40.83" stroke="#0000ff" stroke-width="1.7" fill="none"/>
<path d="M535.6,40.83L539.2,44.42M535.6,44.42L539.2,40.83" stroke="#0000ff" stroke-width="1.7" fill="none"/>
<path d="M538.45,40.83L542.05,44.42M538.45,44.42L542.05,40.83" stroke="#0000ff" stroke-width="1.7" fill="none"/>
<path d="M541.3,40.83L544.9,44.42M541.3,44.42L544.9,40.83" stroke="#0000ff" stroke-width="1.7" fill="none"/>
<path d="M544.15,40.83L547.75,44.42M544.15,44.42L547.75,40.83" stroke="#0000ff" stroke-width="1.7" fill="none"/>
<path d="M547,40.83L550.6,44.42M547,44.42L550.6,40.83" stroke="#0000ff" stroke-width="1.7" fill="none"/>
<path d="M549.85,40.83L553.45,44.42M549.85,44.42L553.45,40.83" stroke="#0000ff" stroke-width="1.7" fill="none"/>
<path d="M552.7,40.83L556.3,44.42M552.7,44.42L556.3,40.83" stroke="#0000ff" stroke-width="1.7" fill="none"/>
<path d="M555.55,68.95L559.15,72.55M555.55,72.55L559.15,68.95" stroke="#0000ff" stroke-width="1.7" fill="none"/>
<path d="M558.4,40.83L562,44.42M558.4,44.42L562,40.83" stroke="#0000ff" stroke-width="1.7" fill="none"/>
<path d="M561.25,40.83L564.85,44.42M561.25,44.42L564.85,40.83" stroke="#0000ff" stroke-width="1.7" fill="none"/>
<path d="M564.1,40.83L567.7,44.42M564.1,44.42L567.7,40.83" stroke="#0000ff" stroke-width="1.7" fill="none"/>
<path d="M566.95,40.83L570.55,44.42M566.95,44.42L570.55,40.83" stroke="#0000ff" stroke-width="1.7" fill="none"/>
<path d="M569.8,40.83L573.4,44.42M569.8,44.42L573.4,40.83" stroke="#0000ff" stroke-width="1.7" fill="none"/>
<path d="M572.65,40.83L576.25,44.42M572.65,44.42L576.25,40.83" stroke="#0000ff" stroke-width="1.7" fill="none"/>
<path d="M575.5,68.95L579.1,72.55M575.5,72.55L579.1,68.95" stroke="#0000ff" stroke-width="1.7" fill="none"/>
<path d="M578.35,40.83L581.95,44.42M578.35,44.42L581.95,40.83" stroke="#0000ff" stroke-width="1.7" fill="none"/>
<path d="M581.2,40.83L584.8,44.42M581.2,44.42L584.8,40.83" stroke="#0000ff" stroke-width="1.7" fill="none"/>
<path d="M584.05,40.83L587.65,44.42M584.05,44.42L587.65,40.83" stroke="#0000ff" stroke-width="1.7" fill="none"/>
<path d="M586.9,40.83L590.5,44.42M586.9,44.42L590.5,40.83" stroke="#0000ff" stroke-width="1.7" fill="none"/>
<path d="M589.75,40.83L593.35,44.42M589.75,44.42L593.35,40.83" stroke="#0000ff" stroke-width="1.7" fill="none"/>
<path d="M592.6,40.83L596.2,44.42M592.6,44.42L596.2,40.83" stroke="#0000ff" stroke-width="1.7" fill="none"/>
<path d="M595.45,40.83L599.05,44.42M595.45,44.42L599.05,40.83" stroke="#0000ff" stroke-width="1.7" fill="none"/>
<path d="M598.3,40.83L601.9,44.42M598.3,44.42L601.9,40.83" stroke="#0000ff" stroke-width="1.7" fill="none"/>
<path d="M601.15,40.83L604.75,44.42M601.15,44.42L604.75,40.83" stroke="#0000ff" stroke-width="1.7" fill="none"/>
<path d="M604,68.95L607.6,72.55M604,72.55L607.6,68.95" stroke="#0000ff" stroke-width="1.7" fill="none"/>
<path d="M606.85,40.83L610.45,44.42M606.85,44.42L610.45,40.83" stroke="#0000ff" stroke-width="1.7" fill="none"/>
<path d="M609.7,40.83L613.3,44.42M609.7,44.42L613.3,40.83" stroke="#0000ff" stroke-width="1.7" fill="none"/>
<path d="M612.55,40.83L616.15,44.42M612.55,44.42L616.15,40.83" stroke="#0000ff" stroke-width="1.7" fill="none"/>
<path d="M615.4,40.83L619,44.42M615.4,44.42L619,40.83" stroke="#0000ff" stroke-width="1.7" fill="none"/>
<path d="M618.25,97.08L621.85,100.67M618.25,100.67L621.85,97.08" stroke="#0000ff" stroke-width="1.7" fill="none"/>
<path d="M621.1,40.83L624.7,44.42M621.1,44.42L624.7,40.83" stroke="#0000ff" stroke-width="1.7" fill="none"/>
<path d="M623.95,40.83L627.55,44.42M623.95,44.42L627.55,40.83" stroke="#0000ff" stroke-width="1.7" fill="none"/>
<path d="M626.8,40.83L630.4,44.42M626.8,44.42L630.4,40.83" stroke="#0000ff" stroke-width="1.7" fill="none"/>
<path d="M629.65,40.83L633.25,44.42M629.65,44.42L633.25,40.83" stroke="#0000ff" stroke-width="1.7" fill="none"/>
<path d="M632.5,40.83L636.1,44.42M632.5,44.42L636.1,40.83" stroke="#0000ff" stroke-width="1.7" fill="none"/>
<path d="M635.35,68.95L638.95,72.55M635.35,72.55L638.95,68.95" stroke="#0000ff" stroke-width="1.7" fill="none"/>
<path d="M638.2,40.83L641.8,44.42M638.2,44.42L641.8,40.83" stroke="#0000ff" stroke-width="1.7" fill="none"/>
<path d="M641.05,40.83L644.65,44.42M641.05,44.42L644.65,40.83" stroke="#0000ff" stroke-width="1.7" fill="none"/>
<path d="M643.9,40.83L647.5,44.42M643.9,44.42L647.5,40.83" stroke="#0000ff" stroke-width="1.7" fill="none"/>
<path d="M646.75,40.83L650.35,44.42M646.75,44.42L650.35,40.83" stroke="#0000ff" stroke-width="1.7" fill="none"/>
<path d="M649.6,40.83L653.2,44.42M649.6,44.42L653.2,40.83" stroke="#0000ff" stroke-width="1.7" fill="none"/>
<path d="M652.45,40.83L656.05,44.42M652.45,44.42L656.05,40.83" stroke="#0000ff" stroke-width="1.7" fill="none"/>
<path d="M655.3,40.83L658.9,44.42M655.3,44.42L658.9,40.83" stroke="#0000ff" stroke-width="1.7" fill="none"/>
<path d="M658.15,40.83L661.75,44.42M658.15,44.42L661.75,40.83" stroke="#0000ff" stroke-width="1.7" fill="none"/>
<path d="M661,40.83L664.6,44.42M661,44.42L664.6,40.83" stroke="#0000ff" stroke-width="1.7" fill="none"/>
<path d="M663.85,68.95L667.45,72.55M663.85,72.55L667.45,68.95" stroke="#0000ff" stroke-width="1.7" fill="none"/>
<path d="M666.7,68.95L670.3,72.55M666.7,72.55L670.3,68.95" stroke="#0000ff" stroke-width="1.7" fill="none"/>
<path d="M669.55,125.2L673.15,128.8M669.55,128.8L673.15,125.2" stroke="#0000ff" stroke-width="1.7" fill="none"/>
<path d="M672.4,125.2L676,128.8M672.4,128.8L676,125.2" stroke="#0000ff" stroke-width="1.7" fill="none"/>
<path d="M675.25,125.2L678.85,128.8M675.25,128.8L678.85,125.2" stroke="#0000ff" stroke-width="1.7" fill="none"/>
<path d="M678.1,125.2L681.7,128.8M678.1,128.8L681.7,125.2" stroke="#0000ff" stroke-width="1.7" fill="none"/>
<path d="M680.95,153.32L684.55,156.93M680.95,156.93L684.55,153.32" stroke="#0000ff" stroke-width="1.7" fill="none"/>
<path d="M683.8,125.2L687.4,128.8M683.8,128.8L687.4,125.2" stroke="#0000ff" stroke-width="1.7" fill="none"/>
<path d="M686.65,153.32L690.25,156.93M686.65,156.93L690.25,153.32" stroke="#0000ff" stroke-width="1.7" fill="none"/>
<path d="M689.5,125.2L693.1,128.8M689.5,128.8L693.1,125.2" stroke="#0000ff" stroke-width="1.7" fill="none"/>
<path d="M692.35,125.2L695.95,128.8M692.35,128.8L695.95,125.2" stroke="#0000ff" stroke-width="1.7" fill="none"/>
<path d="M695.2,125.2L698.8,128.8M695.2,128.8L698.8,125.2" stroke="#0000ff" stroke-width="1.7" fill="none"/>
<path d="M698.05,125.2L701.65,128.8M698.05,128.8L701.65,125.2" stroke="#0000ff" stroke-width="1.7" fill="none"/>
<path d="M700.9,125.2L704.5,128.8M700.9,128.8L704.5,125.2" stroke="#0000ff" stroke-width="1.7" fill="none"/>
<path d="M703.75,153.32L707.35,156.93M703.75,156.93L707.35,153.32" stroke="#0000ff" stroke-width="1.7" fill="none"/>
<path d="M706.6,153.32L710.2,156.93M706.6,156.93L710.2,153.32" stroke="#0000ff" stroke-width="1.7" fill="none"/>
<path d="M709.45,181.45L713.05,185.05M709.45,185.05L713.05,181.45" stroke="#0000ff" stroke-width="1.7" fill="none"/>
<path d="M712.3,153.32L715.9,156.93M712.3,156.93L715.9,153.32" stroke="#0000ff" stroke-width="1.7" fill="none"/>
<path d="M715.15,153.32L718.75,156.93M715.15,156.93L718.75,153.32" stroke="#0000ff" stroke-width="1.7" fill="none"/>
<path d="M718,153.32L721.6,156.93M718,156.93L721.6,153.32" stroke="#0000ff" stroke-width="1.7" fill="none"/>
<path d="M720.85,153.32L724.45,156.93M720.85,156.93L724.45,153.32" stroke="#0000ff" stroke-width="1.7" fill="none"/>
<path d="M723.7,153.32L727.3,156.93M723.7,156.93L727.3,153.32" stroke="#0000ff" stroke-width="1.7" fill="none"/>
<circle cx="443.35" cy="239.5" r="2.65" stroke="#00ff00" stroke-width="1.9" fill="none"/>
<circle cx="443.35" cy="239.5" r="2.8" fill="#ff0000"/>
<circle cx="446.2" cy="127" r="2.65" stroke="#00ff00" stroke-width="1.9" fill="none"/>
<circle cx="446.2" cy="127" r="2.8" fill="#ff0000"/>
<circle cx="449.05" cy="127" r="2.65" stroke="#00ff00" stroke-width="1.9" fill="none"/>
<circle cx="449.05" cy="98.88" r="2.8" fill="#ff0000"/>
<circle cx="451.9" cy="127" r="2.65" stroke="#00ff00" stroke-width="1.9" fill="none"/>
<circle cx="451.9" cy="127" r="2.8" fill="#ff0000"/>
<circle cx="454.75" cy="127" r="2.65" stroke="#00ff00" stroke-width="1.9" fill="none"/>
<circle cx="454.75" cy="127" r="2.8" fill="#ff0000"/>
<circle cx="457.6" cy="127" r="2.65" stroke="#00ff00" stroke-width="1.9" fill="none"/>
<circle cx="457.6" cy="127" r="2.8" fill="#ff0000"/>
<circle cx="460.45" cy="127" r="2.65" stroke="#00ff00" stroke-width="1.9" fill="none"/>
<circle cx="460.45" cy="127" r="2.8" fill="#ff0000"/>
<circle cx="463.3" cy="127" r="2.65" stroke="#00ff00" stroke-width="1.9" fill="none"/>
<circle cx="463.3" cy="127" r="2.8" fill="#ff0000"/>
<circle cx="466.15" cy="127" r="2.65" stroke="#00ff00" stroke-width="1.9" fill="none"/>
<circle cx="466.15" cy="127" r="2.8" fill="#ff0000"/>
<circle cx="469" cy="127" r="2.65" stroke="#00ff00" stroke-width="1.9" fill="none"/>
<circle cx="469" cy="127" r="2.8" fill="#ff0000"/>
<circle cx="471.85" cy="42.62" r="2.65" stroke="#00ff00" stroke-width="1.9" fill="none"/>
<circle cx="471.85" cy="42.62" r="2.8" fill="#ff0000"/>
<circle cx="474.7" cy="42.62" r="2.65" stroke="#00ff00" stroke-width="1.9" fill="none"/>
<circle cx="474.7" cy="42.62" r="2.8" fill="#ff0000"/>
<circle cx="477.55" cy="42.62" r="2.65" stroke="#00ff00" stroke-width="1.9" fill="none"/>
<circle cx="477.55" cy="42.62" r="2.8" fill="#ff0000"/>
<circle cx="480.4" cy="42.62" r="2.65" stroke="#00ff00" stroke-width="1.9" fill="none"/>
<circle cx="480.4" cy="42.62" r="2.8" fill="#ff0000"/>
<circle cx="483.25" cy="42.62" r="2.65" stroke="#00ff00" stroke-width="1.9" fill="none"/>
<circle cx="483.25" cy="42.62" r="2.8" fill="#ff0000"/>
<circle cx="486.1" cy="42.62" r="2.65" stroke="#00ff00" stroke-width="1.9" fill="none"/>
<circle cx="486.1" cy="42.62" r="2.8" fill="#ff0000"/>
<circle cx="488.95" cy="14.5" r="2.65" stroke="#00ff00" stroke-width="1.9" fill="none"/>
<circle cx="488.95" cy="14.5" r="2.8" fill="#ff0000"/>
<circle cx="491.8" cy="42.62" r="2.65" stroke="#00ff00" stroke-width="1.9" fill="none"/>
<circle cx="491.8" cy="42.62" r="2.8" fill="#ff0000"/>
<circle cx="494.65" cy="42.62" r="2.65" stroke="#00ff00" stroke-width="1.9" fill="none"/>
<circle cx="494.65" cy="42.62" r="2.8" fill="#ff0000"/>
<circle cx="497.5" cy="42.62" r="2.65" stroke="#00ff00" stroke-width="1.9" fill="none"/>
<circle cx="497.5" cy="42.62" r="2.8" fill="#ff0000"/>
<circle cx="500.35" cy="42.62" r="2.65" stroke="#00ff00" stroke-width="1.9" fill="none"/>
<circle cx="500.35" cy="42.62" r="2.8" fill="#ff0000"/>
<circle cx="503.2" cy="42.62" r="2.65" stroke="#00ff00" stroke-width="1.9" fill="none"/>
<circle cx="503.2" cy="14.5" r="2.8" fill="#ff0000"/>
<circle cx="506.05" cy="42.62" r="2.65" stroke="#00ff00" stroke-width="1.9" fill="none"/>
<circle cx="506.05" cy="42.62" r="2.8" fill="#ff0000"/>
<circle cx="508.9" cy="98.88" r="2.65" stroke="#00ff00" stroke-width="1.9" fill="none"/>
<circle cx="508.9" cy="42.62" r="2.8" fill="#ff0000"/>
<circle cx="511.75" cy="70.75" r="2.65" stroke="#00ff00" stroke-width="1.9" fill="none"/>
<circle cx="511.75" cy="42.62" r="2.8" fill="#ff0000"/>
<circle cx="514.6" cy="42.62" r="2.65" stroke="#00ff00" stroke-width="1.9" fill="none"/>
<circle cx="514.6" cy="42.62" r="2.8" fill="#ff0000"/>
<circle cx="517.45" cy="70.75" r="2.65" stroke="#00ff00" stroke-width="1.9" fill="none"/>
<circle cx="517.45" cy="42.62" r="2.8" fill="#ff0000"/>
<circle cx="520.3" cy="42.62" r="2.65" stroke="#00ff00" stroke-width="1.9" fill="none"/>
<circle cx="520.3" cy="42.62" r="2.8" fill="#ff0000"/>
<circle cx="523.15" cy="42.62" r="2.65" stroke="#00ff00" stroke-width="1.9" fill="none"/>
<circle cx="523.15" cy="42.62" r="2.8" fill="#ff0000"/>
<circle cx="526" cy="42.62" r="2.65" stroke="#00ff00" stroke-width="1.9" fill="none"/>
<circle cx="526" cy="42.62" r="2.8" fill="#ff0000"/>
<circle cx="528.85" cy="42.62" r="2.65" stroke="#00ff00" stroke-width="1.9" fill="none"/>
<circle cx="528.85" cy="42.62" r="2.8" fill="#ff0000"/>
<circle cx="531.7" cy="42.62" r="2.65" stroke="#00ff00" stroke-width="1.9" fill="none"/>
<circle cx="531.7" cy="42.62" r="2.8" fill="#ff0000"/>
<circle cx="534.55" cy="42.62" r="2.65" stroke="#00ff00" stroke-width="1.9" fill="none"/>
<circle cx="534.55" cy="42.62" r="2.8" fill="#ff0000"/>
<circle cx="537.4" cy="42.62" r="2.65" stroke="#00ff00" stroke-width="1.9" fill="none"/>
<circle cx="537.4" cy="42.62" r="2.8" fill="#ff0000"/>
<circle cx="540.25" cy="42.62" r="2.65" stroke="#00ff00" stroke-width="1.9" fill="none"/>
<circle cx="540.25" cy="42.62" r="2.8" fill="#ff0000"/>
<circle cx="543.1" cy="42.62" r="2.65" stroke="#00ff00" stroke-width="1.9" fill="none"/>
<circle cx="543.1" cy="42.62" r="2.8" fill="#ff0000"/>
<circle cx="545.95" cy="98.88" r="2.65" stroke="#00ff00" stroke-width="1.9" fill="none"/>
<circle cx="545.95" cy="42.62" r="2.8" fill="#ff0000"/>
<circle cx="548.8" cy="70.75" r="2.65" stroke="#00ff00" stroke-width="1.9" fill="none"/>
<circle cx="548.8" cy="42.62" r="2.8" fill="#ff0000"/>
<circle cx="551.65" cy="42.62" r="2.65" stroke="#00ff00" stroke-width="1.9" fill="none"/>
<circle cx="551.65" cy="42.62" r="2.8" fill="#ff0000"/>
<circle cx="554.5" cy="42.62" r="2.65" stroke="#00ff00" stroke-width="1.9" fill="none"/>
<circle cx="554.5" cy="14.5" r="2.8" fill="#ff0000"/>
<circle cx="557.35" cy="42.62" r="2.65" stroke="#00ff00" stroke-width="1.9" fill="none"/>
<circle cx="557.35" cy="42.62" r="2.8" fill="#ff0000"/>
<circle cx="560.2" cy="42.62" r="2.65" stroke="#00ff00" stroke-width="1.9" fill="none"/>
<circle cx="560.2" cy="42.62" r="2.8" fill="#ff0000"/>
<circle cx="563.05" cy="42.62" r="2.65" stroke="#00ff00" stroke-width="1.9" fill="none"/>
<circle cx="563.05" cy="42.62" r="2.8" fill="#ff0000"/>
<circle cx="565.9" cy="42.62" r="2.65" stroke="#00ff00" stroke-width="1.9" fill="none"/>
<circle cx="565.9" cy="14.5" r="2.8" fill="#ff0000"/>
<circle cx="568.75" cy="42.62" r="2.65" stroke="#00ff00" stroke-width="1.9" fill="none"/>
<circle cx="568.75" cy="42.62" r="2.8" fill="#ff0000"/>
<circle cx="571.6" cy="42.62" r="2.65" stroke="#00ff00" stroke-width="1.9" fill="none"/>
<circle cx="571.6" cy="42.62" r="2.8" fill="#ff0000"/>
<circle cx="574.45" cy="42.62" r="2.65" stroke="#00ff00" stroke-width="1.9" fill="none"/>
<circle cx="574.45" cy="42.62" r="2.8" fill="#ff0000"/>
<circle cx="577.3" cy="14.5" r="2.65" stroke="#00ff00" stroke-width="1.9" fill="none"/>
<circle cx="577.3" cy="14.5" r="2.8" fill="#ff0000"/>
<circle cx="580.15" cy="70.75" r="2.65" stroke="#00ff00" stroke-width="1.9" fill="none"/>
<circle cx="580.15" cy="42.62" r="2.8" fill="#ff0000"/>
<circle cx="583" cy="42.62" r="2.65" stroke="#00ff00" stroke-width="1.9" fill="none"/>
<circle cx="583" cy="42.62" r="2.8" fill="#ff0000"/>
<circle cx="585.85" cy="42.62" r="2.65" stroke="#00ff00" stroke-width="1.9" fill="none"/>
<circle cx="585.85" cy="42.62" r="2.8" fill="#ff0000"/>
<circle cx="588.7" cy="42.62" r="2.65" stroke="#00ff00" stroke-width="1.9" fill="none"/>
<circle cx="588.7" cy="42.62" r="2.8" fill="#ff0000"/>
<circle cx="591.55" cy="70.75" r="2.65" stroke="#00ff00" stroke-width="1.9" fill="none"/>
<circle cx="591.55" cy="42.62" r="2.8" fill="#ff0000"/>
<circle cx="594.4" cy="70.75" r="2.65" stroke="#00ff00" stroke-width="1.9" fill="none"/>
<circle cx="594.4" cy="42.62" r="2.8" fill="#ff0000"/>
<circle cx="597.25" cy="70.75" r="2.65" stroke="#00ff00" stroke-width="1.9" fill="none"/>
<circle cx="597.25" cy="42.62" r="2.8" fill="#ff0000"/>
<circle cx="600.1" cy="70.75" r="2.65" stroke="#00ff00" stroke-width="1.9" fill="none"/>
<circle cx="600.1" cy="42.62" r="2.8" fill="#ff0000"/>
<circle cx="602.95" cy="42.62" r="2.65" stroke="#00ff00" stroke-width="1.9" fill="none"/>
<circle cx="602.95" cy="14.5" r="2.8" fill="#ff0000"/>
<circle cx="605.8" cy="70.75" r="2.65" stroke="#00ff00" stroke-width="1.9" fill="none"/>
<circle cx="605.8" cy="42.62" r="2.8" fill="#ff0000"/>
<circle cx="608.65" cy="98.88" r="2.65" stroke="#00ff00" stroke-width="1.9" fill="none"/>
<circle cx="608.65" cy="42.62" r="2.8" fill="#ff0000"/>
<circle cx="611.5" cy="127" r="2.65" stroke="#00ff00" stroke-width="1.9" fill="none"/>
<circle cx="611.5" cy="42.62" r="2.8" fill="#ff0000"/>
<circle cx="614.35" cy="98.88" r="2.65" stroke="#00ff00" stroke-width="1.9" fill="none"/>
<circle cx="614.35" cy="42.62" r="2.8" fill="#ff0000"/>
<circle cx="617.2" cy="70.75" r="2.65" stroke="#00ff00" stroke-width="1.9" fill="none"/>
<circle cx="617.2" cy="42.62" r="2.8" fill="#ff0000"/>
<circle cx="620.05" cy="98.88" r="2.65" stroke="#00ff00" stroke-width="1.9" fill="none"/>
<circle cx="620.05" cy="98.88" r="2.8" fill="#ff0000"/>
<circle cx="622.9" cy="70.75" r="2.65" stroke="#00ff00" stroke-width="1.9" fill="none"/>
<circle cx="622.9" cy="42.62" r="2.8" fill="#ff0000"/>
<circle cx="625.75" cy="70.75" r="2.65" stroke="#00ff00" stroke-width="1.9" fill="none"/>
<circle cx="625.75" cy="42.62" r="2.8" fill="#ff0000"/>
<circle cx="628.6" cy="70.75" r="2.65" stroke="#00ff00" stroke-width="1.9" fill="none"/>
<circle cx="628.6" cy="42.62" r="2.8" fill="#ff0000"/>
<circle cx="631.45" cy="70.75" r="2.65" stroke="#00ff00" stroke-width="1.9" fill="none"/>
<circle cx="631.45" cy="42.62" r="2.8" fill="#ff0000"/>
<circle cx="634.3" cy="70.75" r="2.65" stroke="#00ff00" stroke-width="1.9" fill="none"/>
<circle cx="634.3" cy="42.62" r="2.8" fill="#ff0000"/>
<circle cx="637.15" cy="70.75" r="2.65" stroke="#00ff00" stroke-width="1.9" fill="none"/>
<circle cx="637.15" cy="42.62" r="2.8" fill="#ff0000"/>
<circle cx="640" cy="70.75" r="2.65" stroke="#00ff00" stroke-width="1.9" fill="none"/>
<circle cx="640" cy="14.5" r="2.8" fill="#ff0000"/>
<circle cx="642.85" cy="70.75" r="2.65" stroke="#00ff00" stroke-width="1.9" fill="none"/>
<circle cx="642.85" cy="42.62" r="2.8" fill="#ff0000"/>
<circle cx="645.7" cy="70.75" r="2.65" stroke="#00ff00" stroke-width="1.9" fill="none"/>
<circle cx="645.7" cy="42.62" r="2.8" fill="#ff0000"/>
<circle cx="648.55" cy="70.75" r="2.65" stroke="#00ff00" stroke-width="1.9" fill="none"/>
<circle cx="648.55" cy="42.62" r="2.8" fill="#ff0000"/>
<circle cx="651.4" cy="70.75" r="2.65" stroke="#00ff00" stroke-width="1.9" fill="none"/>
<circle cx="651.4" cy="42.62" r="2.8" fill="#ff0000"/>
<circle cx="654.25" cy="70.75" r="2.65" stroke="#00ff00" stroke-width="1.9" fill="none"/>
<circle cx="654.25" cy="42.62" r="2.8" fill="#ff0000"/>
<circle cx="657.1" cy="70.75" r="2.65" stroke="#00ff00" stroke-width="1.9" fill="none"/>
<circle cx="657.1" cy="42.62" r="2.8" fill="#ff0000"/>
<circle cx="659.95" cy="70.75" r="2.65" stroke="#00ff00" stroke-width="1.9" fill="none"/>
<circle cx="659.95" cy="42.62" r="2.8" fill="#ff0000"/>
<circle cx="662.8" cy="70.75" r="2.65" stroke="#00ff00" stroke-width="1.9" fill="none"/>
<circle cx="662.8" cy="42.62" r="2.8" fill="#ff0000"/>
<circle cx="665.65" cy="70.75" r="2.65" stroke="#00ff00" stroke-width="1.9" fill="none"/>
<circle cx="665.65" cy="42.62" r="2.8" fill="#ff0000"/>
<circle cx="668.5" cy="70.75" r="2.65" stroke="#00ff00" stroke-width="1.9" fill="none"/>
<circle cx="668.5" cy="42.62" r="2.8" fill="#ff0000"/>
<circle cx="671.35" cy="127" r="2.65" stroke="#00ff00" stroke-width="1.9" fill="none"/>
<circle cx="671.35" cy="98.88" r="2.8" fill="#ff0000"/>
<circle cx="674.2" cy="127" r="2.65" stroke="#00ff00" stroke-width="1.9" fill="none"/>
<circle cx="674.2" cy="98.88" r="2.8" fill="#ff0000"/>
<circle cx="677.05" cy="127" r="2.65" stroke="#00ff00" stroke-width="1.9" fill="none"/>
<circle cx="677.05" cy="98.88" r="2.8" fill="#ff0000"/>
<circle cx="679.9" cy="127" r="2.65" stroke="#00ff00" stroke-width="1.9" fill="none"/>
<circle cx="679.9" cy="98.88" r="2.8" fill="#ff0000"/>
<circle cx="682.75" cy="127" r="2.65" stroke="#00ff00" stroke-width="1.9" fill="none"/>
<circle cx="682.75" cy="127" r="2.8" fill="#ff0000"/>
<circle cx="685.6" cy="127" r="2.65" stroke="#00ff00" stroke-width="1.9" fill="none"/>
<circle cx="685.6" cy="98.88" r="2.8" fill="#ff0000"/>
<circle cx="688.45" cy="127" r="2.65" stroke="#00ff00" stroke-width="1.9" fill="none"/>
<circle cx="688.45" cy="98.88" r="2.8" fill="#ff0000"/>
<circle cx="691.3" cy="127" r="2.65" stroke="#00ff00" stroke-width="1.9" fill="none"/>
<circle cx="691.3" cy="98.88" r="2.8" fill="#ff0000"/>
<circle cx="694.15" cy="127" r="2.65" stroke="#00ff00" stroke-width="1.9" fill="none"/>
<circle cx="694.15" cy="98.88" r="2.8" fill="#ff0000"/>
<circle cx="697" cy="127" r="2.65" stroke="#00ff00" stroke-width="1.9" fill="none"/>
<circle cx="697" cy="98.88" r="2.8" fill="#ff0000"/>
<circle cx="699.85" cy="127" r="2.65" stroke="#00ff00" stroke-width="1.9" fill="none"/>
<circle cx="699.85" cy="98.88" r="2.8" fill="#ff0000"/>
<circle cx="702.7" cy="127" r="2.65" stroke="#00ff00" stroke-width="1.9" fill="none"/>
<circle cx="702.7" cy="98.88" r="2.8" fill="#ff0000"/>
<circle cx="705.55" cy="127" r="2.65" stroke="#00ff00" stroke-width="1.9" fill="none"/>
<circle cx="705.55" cy="98.88" r="2.8" fill="#ff0000"/>
<circle cx="708.4" cy="127" r="2.65" stroke="#00ff00" stroke-width="1.9" fill="none"/>
<circle cx="708.4" cy="98.88" r="2.8" fill="#ff0000"/>
<circle cx="711.25" cy="127" r="2.65" stroke="#00ff00" stroke-width="1.9" fill="none"/>
<circle cx="711.25" cy="98.88" r="2.8" fill="#ff0000"/>
<circle cx="714.1" cy="155.12" r="2.65" stroke="#00ff00" stroke-width="1.9" fill="none"/>
<circle cx="714.1" cy="98.88" r="2.8" fill="#ff0000"/>
<circle cx="716.95" cy="127" r="2.65" stroke="#00ff00" stroke-width="1.9" fill="none"/>
<circle cx="716.95" cy="98.88" r="2.8" fill="#ff0000"/>
<circle cx="719.8" cy="127" r="2.65" stroke="#00ff00" stroke-width="1.9" fill="none"/>
<circle cx="719.8" cy="98.88" r="2.8" fill="#ff0000"/>
<circle cx="722.65" cy="127" r="2.65" stroke="#00ff00" stroke-width="1.9" fill="none"/>
<circle cx="722.65" cy="98.88" r="2.8" fill="#ff0000"/>
<circle cx="725.5" cy="127" r="2.65" stroke="#00ff00" stroke-width="1.9" fill="none"/>
<circle cx="725.5" cy="98.88" r="2.8" fill="#ff0000"/>
<circle cx="449.05" cy="127" r="0.7" fill="#c8ffc8"/>
<circle cx="503.2" cy="42.62" r="0.8" fill="#1040d0"/>
<circle cx="508.9" cy="98.88" r="0.7" fill="#c8ffc8"/>
<circle cx="511.75" cy="70.75" r="0.7" fill="#c8ffc8"/>
<circle cx="517.45" cy="70.75" r="0.7" fill="#c8ffc8"/>
<circle cx="545.95" cy="98.88" r="0.7" fill="#c8ffc8"/>
<circle cx="548.8" cy="70.75" r="0.7" fill="#c8ffc8"/>
<circle cx="554.5" cy="42.62" r="0.8" fill="#1040d0"/>
<circle cx="565.9" cy="42.62" r="0.8" fill="#1040d0"/>
<circle cx="580.15" cy="70.75" r="0.7" fill="#c8ffc8"/>
<circle cx="591.55" cy="70.75" r="0.7" fill="#c8ffc8"/>
<circle cx="594.4" cy="70.75" r="0.7" fill="#c8ffc8"/>
<circle cx="597.25" cy="70.75" r="0.7" fill="#c8ffc8"/>
<circle cx="600.1" cy="70.75" r="0.7" fill="#c8ffc8"/>
<circle cx="602.95" cy="42.62" r="0.8" fill="#1040d0"/>
<circle cx="605.8" cy="70.75" r="0.8" fill="#1040d0"/>
<circle cx="608.65" cy="98.88" r="0.7" fill="#c8ffc8"/>
<circle cx="611.5" cy="127" r="0.7" fill="#c8ffc8"/>
<circle cx="614.35" cy="98.88" r="0.7" fill="#c8ffc8"/>
<circle cx="617.2" cy="70.75" r="0.7" fill="#c8ffc8"/>
<circle cx="622.9" cy="70.75" r="0.7" fill="#c8ffc8"/>
<circle cx="625.75" cy="70.75" r="0.7" fill="#c8ffc8"/>
<circle cx="628.6" cy="70.75" r="0.7" fill="#c8ffc8"/>
<circle cx="631.45" cy="70.75" r="0.7" fill="#c8ffc8"/>
<circle cx="634.3" cy="70.75" r="0.7" fill="#c8ffc8"/>
<circle cx="637.15" cy="70.75" r="0.8" fill="#1040d0"/>
<circle cx="640" cy="70.75" r="0.7" fill="#c8ffc8"/>
<circle cx="642.85" cy="70.75" r="0.7" fill="#c8ffc8"/>
<circle cx="645.7" cy="70.75" r="0.7" fill="#c8ffc8"/>
<circle cx="648.55" cy="70.75" r="0.7" fill="#c8ffc8"/>
<circle cx="651.4" cy="70.75" r="0.7" fill="#c8ffc8"/>
<circle cx="654.25" cy="70.75" r="0.7" fill="#c8ffc8"/>
<circle cx="657.1" cy="70.75" r="0.7" fill="#c8ffc8"/>
<circle cx="659.95" cy="70.75" r="0.7" fill="#c8ffc8"/>
<circle cx="662.8" cy="70.75" r="0.7" fill="#c8ffc8"/>
<circle cx="665.65" cy="70.75" r="0.8" fill="#1040d0"/>
<circle cx="668.5" cy="70.75" r="0.8" fill="#1040d0"/>
<circle cx="671.35" cy="127" r="0.8" fill="#1040d0"/>
<circle cx="674.2" cy="127" r="0.8" fill="#1040d0"/>
<circle cx="677.05" cy="127" r="0.8" fill="#1040d0"/>
<circle cx="679.9" cy="127" r="0.8" fill="#1040d0"/>
<circle cx="685.6" cy="127" r="0.8" fill="#1040d0"/>
<circle cx="688.45" cy="127" r="0.7" fill="#c8ffc8"/>
<circle cx="691.3" cy="127" r="0.8" fill="#1040d0"/>
<circle cx="694.15" cy="127" r="0.8" fill="#1040d0"/>
<circle cx="697" cy="127" r="0.8" fill="#1040d0"/>
<circle cx="699.85" cy="127" r="0.8" fill="#1040d0"/>
<circle cx="702.7" cy="127" r="0.8" fill="#1040d0"/>
<circle cx="705.55" cy="127" r="0.7" fill="#c8ffc8"/>
<circle cx="708.4" cy="127" r="0.7" fill="#c8ffc8"/>
<circle cx="711.25" cy="127" r="0.7" fill="#c8ffc8"/>
<circle cx="714.1" cy="155.12" r="0.8" fill="#1040d0"/>
<circle cx="716.95" cy="127" r="0.7" fill="#c8ffc8"/>
<circle cx="719.8" cy="127" r="0.7" fill="#c8ffc8"/>
<circle cx="722.65" cy="127" r="0.7" fill="#c8ffc8"/>
<circle cx="725.5" cy="127" r="0.7" fill="#c8ffc8"/>
<polyline points="443.35,127 446.2,127 449.05,127 451.9,127 454.75,127 457.6,127 460.45,127 463.3,127 466.15,127 469,42.62 471.85,42.62 474.7,42.62 477.55,42.62 480.4,42.62 483.25,42.62 486.1,42.62 488.95,42.62 491.8,42.62 494.65,42.62 497.5,42.62 500.35,42.62 503.2,42.62 506.05,42.62 508.9,42.62 511.75,42.62 514.6,42.62 517.45,42.62 520.3,42.62 523.15,42.62 526,42.62 528.85,42.62 531.7,42.62 534.55,42.62 537.4,42.62 540.25,42.62 543.1,42.62 545.95,42.62 548.8,42.62 551.65,42.62 554.5,42.62 557.35,42.62 560.2,42.62 563.05,42.62 565.9,42.62 568.75,42.62 571.6,42.62 574.45,42.62 577.3,42.62 580.15,42.62 583,42.62 585.85,42.62 588.7,42.62 591.55,42.62 594.4,42.62 597.25,42.62 600.1,42.62 602.95,42.62 605.8,42.62 608.65,42.62 611.5,42.62 614.35,42.62 617.2,42.62 620.05,42.62 622.9,42.62 625.75,42.62 628.6,42.62 631.45,42.62 634.3,42.62 637.15,42.62 640,42.62 642.85,42.62 645.7,42.62 648.55,42.62 651.4,42.62 654.25,42.62 657.1,42.62 659.95,42.62 662.8,42.62 665.65,42.62 668.5,42.62 671.35,98.88 674.2,98.88 677.05,98.88 679.9,98.88 682.75,98.88 685.6,98.88 688.45,98.88 691.3,98.88 694.15,98.88 697,98.88 699.85,98.88 702.7,98.88 705.55,98.88 708.4,98.88 711.25,98.88 714.1,98.88 716.95,98.88 719.8,98.88 722.65,98.88 725.5,98.88" fill="none" stroke="#000" stroke-width="1.8"/>
</g>
<rect x="665.5" y="185.5" width="51" height="45" fill="#fff" stroke="#747474"/>
<path d="M676.4,190.7L680,194.3M676.4,194.3L680,190.7" stroke="#0000ff" stroke-width="1.7" fill="none"/>
<circle cx="678.2" cy="203.3" r="2.7" stroke="#00ff00" stroke-width="1.7" fill="none"/>
<circle cx="678.2" cy="213.8" r="2.8" fill="#ff0000"/>
<line x1="668.6" y1="223.9" x2="687.8" y2="223.9" stroke="#000" stroke-width="2"/>
<g font-family='"Liberation Sans", sans-serif' font-size="8" fill="#333333" text-rendering="geometricPrecision">
<text x="690" y="195.6">Car-1</text><text x="690" y="206.1">Car-2</text><text x="690" y="216.6">Fusion</text><text x="690" y="227">True</text>
</g>
<g font-family='"Liberation Serif", serif' font-size="18" fill="#000">
<text x="168" y="289" text-anchor="middle">(<tspan font-weight="bold">a</tspan>)</text>
<text x="576.5" y="289" text-anchor="middle">(<tspan font-weight="bold">b</tspan>)</text>
</g>
</svg>
</body></html>
